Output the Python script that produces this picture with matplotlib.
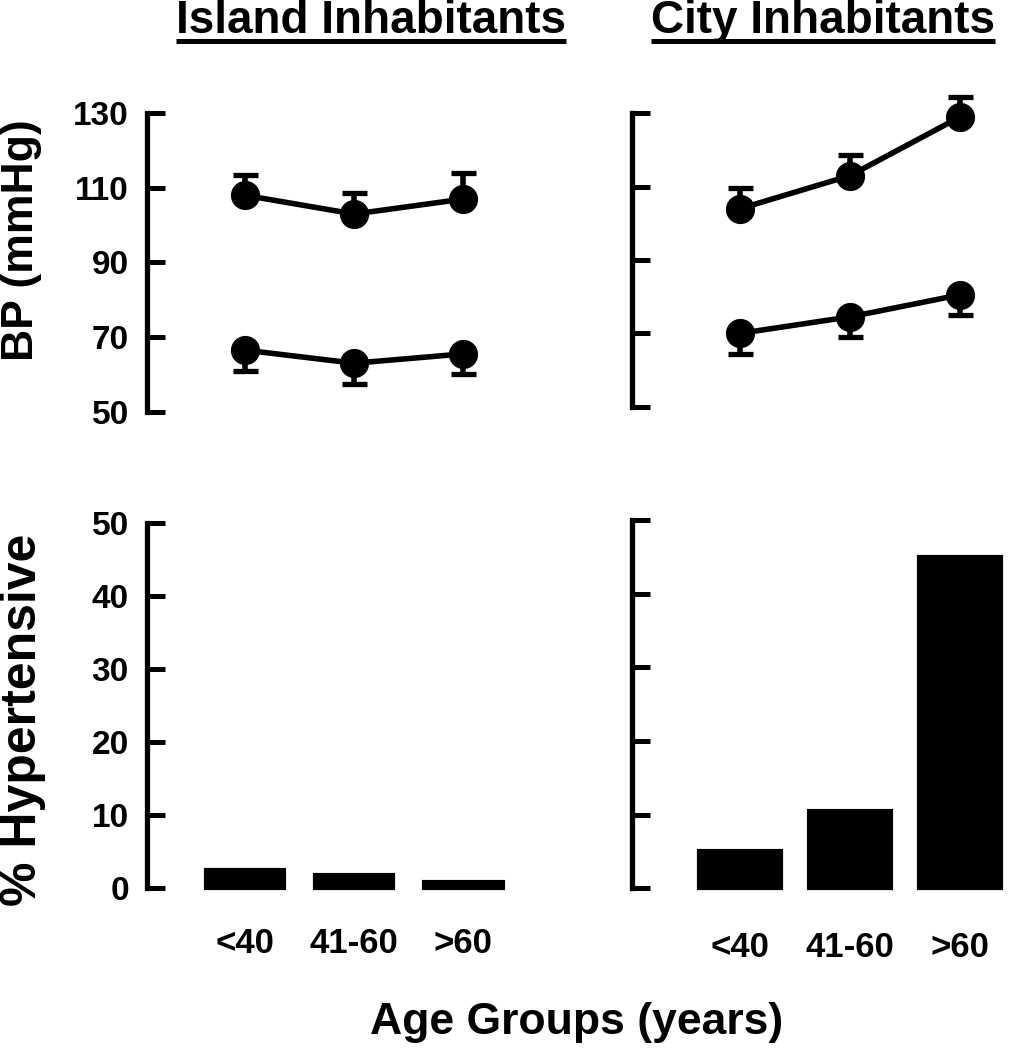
import numpy as np
import matplotlib
matplotlib.use("Agg")
from matplotlib import pyplot as plt
from matplotlib.lines import Line2D

plt.rcParams['font.family'] = ['Liberation Sans', 'DejaVu Sans']
plt.rcParams['font.weight'] = 'bold'

# data
groups = ['<40', '41-60', '>60']
island_sbp = [108, 103, 107]
island_sbp_err = [5.5, 5.5, 7.0]
island_dbp = [66.5, 63, 65.5]
island_dbp_err = [5.5, 5.5, 5.5]
city_sbp = [104, 113, 129]
city_sbp_err = [5.5, 5.5, 5.5]
city_dbp = [70, 74.5, 80.5]
city_dbp_err = [5.5, 5.5, 5.5]
island_htn = [2.5, 1.8, 0.9]
city_htn = [5, 10.5, 45]

W, H = 1013, 1050
fig = plt.figure(figsize=(W / 100, H / 100), dpi=100)

def px_axes(left, right, top, bottom):
    return fig.add_axes([left / W, 1 - bottom / H, (right - left) / W, (bottom - top) / H])

def style(ax, ymin, ymax, step, show_labels):
    for s in ['top', 'right', 'bottom']:
        ax.spines[s].set_visible(False)
    ax.spines['left'].set_linewidth(3.8)
    ax.spines['left'].set_bounds(ymin, ymax)
    ax.set_ylim(ymin, ymax)
    ax.set_yticks(np.arange(ymin, ymax + 1, step))
    ax.tick_params(axis='y', direction='in', length=13, width=3.6, pad=13,
                   labelsize=24, labelleft=show_labels)
    ax.patch.set_visible(False)

def bp_panel(ax, sbp, sbp_err, dbp, dbp_err):
    x = np.arange(len(groups))
    z = np.zeros(len(groups))
    ax.errorbar(x, sbp, yerr=[z, sbp_err], fmt='none', ecolor='k', elinewidth=4,
                capsize=9, capthick=3.8, zorder=2)
    ax.errorbar(x, dbp, yerr=[dbp_err, z], fmt='none', ecolor='k', elinewidth=4,
                capsize=9, capthick=3.8, zorder=2)
    ax.plot(x, sbp, 'o-', color='k', ms=20, lw=4, zorder=3)
    ax.plot(x, dbp, 'o-', color='k', ms=20, lw=4, zorder=3)
    for art in ax.get_children():
        try:
            art.set_clip_on(False)
        except Exception:
            pass
    ax.tick_params(axis='x', bottom=False, labelbottom=False)

def htn_panel(ax, vals, width, pad):
    x = np.arange(len(groups))
    ax.bar(x, vals, width=width, color='k', edgecolor='k', linewidth=3, clip_on=False)
    ax.set_xticks(x, groups)
    ax.tick_params(axis='x', length=0, pad=pad, labelsize=25)

# top left: island BP
ax1 = px_axes(147, 520, 113.3, 411.7)
ax1.set_xlim(-0.9, 2.52)
style(ax1, 50, 130, 20, True)
bp_panel(ax1, island_sbp, island_sbp_err, island_dbp, island_dbp_err)

# top right: city BP
ax2 = px_axes(631.7, 1010, 113.3, 406.7)
ax2.set_xlim(-0.985, 2.455)
style(ax2, 50, 130, 20, False)
bp_panel(ax2, city_sbp, city_sbp_err, city_dbp, city_dbp_err)

# bottom left: island % hypertensive
ax3 = px_axes(147, 520, 523.3, 888.3)
ax3.set_xlim(-0.9, 2.52)
style(ax3, 0, 50, 10, True)
htn_panel(ax3, island_htn, 0.72, 28)

# bottom right: city % hypertensive
ax4 = px_axes(631.7, 1010, 520, 888.3)
ax4.set_xlim(-0.985, 2.455)
style(ax4, 0, 50, 10, False)
htn_panel(ax4, city_htn, 0.75, 31)

# axis labels
fig.text(22 / W, 1 - 240 / H, 'BP (mmHg)', rotation=90, ha='center', va='center',
         fontsize=32, fontweight='bold')
fig.text(23 / W, 1 - 720 / H, '% Hypertensive', rotation=90, ha='center', va='center',
         fontsize=36, fontweight='bold')
fig.text(577 / W, 1 - 1034 / H, 'Age Groups (years)', ha='center', va='baseline',
         fontsize=32, fontweight='bold')

# underlined panel titles
titles = []
for label, cx in [('Island Inhabitants', 371), ('City Inhabitants', 823)]:
    t = fig.text(cx / W, 1 - 33 / H, label, ha='center', va='baseline',
                 fontsize=33, fontweight='bold')
    titles.append(t)

fig.canvas.draw()
renderer = fig.canvas.get_renderer()
for t in titles:
    bb = t.get_window_extent(renderer)
    y = (1 - 41 / H)
    fig.add_artist(Line2D([bb.x0 / W, bb.x1 / W], [y, y], transform=fig.transFigure,
                          color='k', lw=3.6, solid_capstyle='butt'))

fig.savefig('out.png', dpi=100)
